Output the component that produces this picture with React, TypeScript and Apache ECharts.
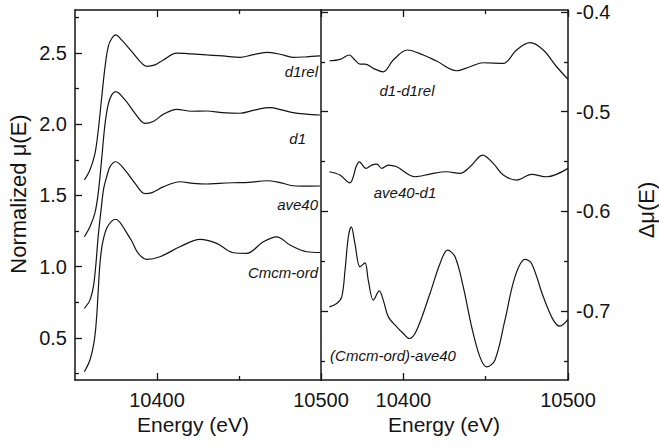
import React, { useEffect, useRef } from "react";
import * as echarts from "echarts";

// Energy grid shared by both panels (eV)
const energyMin = 10350;
const energyMax = 10500;
const energyMajorTicks = [10400, 10500];
const energyMinorTicks = [10450];

// Left panel: normalized absorption, offset stack
const muMin = 0.206;
const muMax = 2.8;
const muMajorTicks = [0.5, 1.0, 1.5, 2.0, 2.5];
const muMinorTicks = [0.25, 0.75, 1.25, 1.75, 2.25, 2.75];

// Right panel: difference spectra
const dMuMin = -0.769;
const dMuMax = -0.398;
const dMuMajorTicks = [-0.7, -0.6, -0.5, -0.4];
const dMuMinorTicks = [-0.75, -0.65, -0.55, -0.45];

const d1rel: [number, number][] = [
  [10355.7, 1.608], [10359.1, 1.678], [10362.2, 1.795], [10364.2, 1.959],
  [10366.3, 2.19], [10368.3, 2.4], [10370.3, 2.545], [10372.4, 2.6],
  [10374.8, 2.625], [10378.4, 2.59], [10384.5, 2.51], [10389.6, 2.44],
  [10393.7, 2.405], [10398.8, 2.415], [10403.9, 2.45], [10412, 2.497],
  [10421, 2.492], [10430.3, 2.485], [10440, 2.478], [10450.6, 2.468],
  [10458, 2.485], [10466.9, 2.503], [10475, 2.49], [10483.1, 2.468],
  [10491, 2.472], [10499.4, 2.478],
];

const d1: [number, number][] = [
  [10355.7, 1.21], [10359.1, 1.28], [10362.2, 1.38], [10364.2, 1.52],
  [10366.3, 1.76], [10368.3, 2.0], [10370.3, 2.14], [10372.4, 2.205],
  [10374.8, 2.228], [10380.5, 2.17], [10386.6, 2.076], [10392.7, 2.005],
  [10398, 2.02], [10404, 2.07], [10412, 2.104], [10421, 2.09],
  [10430.3, 2.092], [10440, 2.08], [10450.6, 2.076], [10460, 2.1],
  [10468.9, 2.115], [10476, 2.1], [10483, 2.08], [10491, 2.07],
  [10499.4, 2.064],
];

const ave40: [number, number][] = [
  [10355.7, 0.708], [10359.1, 0.766], [10361.2, 0.86], [10362.6, 1.0],
  [10364.2, 1.22], [10365.9, 1.4], [10367.5, 1.55], [10369.3, 1.63],
  [10371.3, 1.7], [10374.8, 1.736], [10380.5, 1.678], [10386.6, 1.585],
  [10392.7, 1.513], [10397, 1.52], [10403.8, 1.56], [10414, 1.596],
  [10422, 1.585], [10430.3, 1.58], [10438, 1.585], [10446.5, 1.589],
  [10456, 1.592], [10466.9, 1.603], [10475, 1.59], [10483, 1.568],
  [10491, 1.565], [10499.4, 1.566],
];

const cmcmOrd: [number, number][] = [
  [10355.7, 0.264], [10359.1, 0.346], [10361.8, 0.486], [10363.2, 0.649],
  [10364.2, 0.837], [10365.2, 1.02], [10366.7, 1.16], [10369.3, 1.27],
  [10372.4, 1.32], [10374.8, 1.333], [10377.5, 1.31], [10380.5, 1.257],
  [10384.6, 1.18], [10388.6, 1.094], [10393.7, 1.052], [10401.8, 1.07],
  [10414, 1.14], [10426.2, 1.192], [10436.4, 1.164], [10446.5, 1.098],
  [10454.7, 1.094], [10464.8, 1.175], [10473, 1.21], [10481.1, 1.152],
  [10491.3, 1.105], [10499.4, 1.1],
];

const d1MinusD1rel: [number, number][] = [
  [10355.1, -0.4489], [10361.5, -0.4475], [10367.2, -0.4431], [10370.6, -0.4482],
  [10373.7, -0.4522], [10376.7, -0.4522], [10381.8, -0.4565], [10387.8, -0.46],
  [10393.9, -0.4482], [10402.4, -0.4381], [10412.1, -0.4431], [10420.2, -0.4492],
  [10432.4, -0.4589], [10440.5, -0.4549], [10448.5, -0.4509], [10460.7, -0.4515],
  [10468.8, -0.4381], [10476.9, -0.4308], [10485, -0.4381], [10493.1, -0.4549],
  [10500, -0.4675],
];

const ave40MinusD1: [number, number][] = [
  [10355.1, -0.5602], [10361.5, -0.5635], [10367.6, -0.5713], [10369.6, -0.5652],
  [10371.3, -0.5552], [10373.3, -0.5502], [10377.3, -0.5568], [10380.8, -0.5535],
  [10383.8, -0.5525], [10386.9, -0.5568], [10390.9, -0.5535], [10396, -0.5552],
  [10407.1, -0.5652], [10416.2, -0.5625], [10426.3, -0.5602], [10434.4, -0.5618],
  [10440.5, -0.5552], [10448.2, -0.5435], [10454.6, -0.5518], [10460.7, -0.5635],
  [10468.8, -0.5685], [10477.9, -0.5628], [10487, -0.5652], [10500, -0.5568],
];

const cmcmMinusAve40: [number, number][] = [
  [10355.1, -0.6957], [10359.5, -0.6923], [10362.6, -0.6856], [10364.6, -0.6589],
  [10366.6, -0.6254], [10368.4, -0.6154], [10370.6, -0.6321], [10373.7, -0.6555],
  [10376.7, -0.6515], [10378.7, -0.6689], [10381.8, -0.6889], [10385.4, -0.6796],
  [10387.8, -0.6889], [10390.9, -0.7057], [10396, -0.7157], [10400, -0.7224],
  [10403.6, -0.7274], [10408.1, -0.719], [10416.2, -0.6822], [10422.3, -0.6521],
  [10426.9, -0.6388], [10431.4, -0.6455], [10436.4, -0.6756], [10441.5, -0.7157],
  [10446.5, -0.7458], [10450.6, -0.7559], [10455.6, -0.7492], [10461.7, -0.709],
  [10467.8, -0.6656], [10473.9, -0.6481], [10477.9, -0.6521], [10485, -0.6856],
  [10491.1, -0.709], [10495.1, -0.715], [10500, -0.7083],
];

const FONT = '"Liberation Sans", Arial, Helvetica, sans-serif';
const INK = "#141414";

const lineAxis = { show: true, lineStyle: { color: INK, width: 1.5 } };

function energyAxis(grid: number, position: "bottom" | "top", major: boolean, labels: boolean) {
  return {
    type: "value",
    gridIndex: grid,
    position,
    min: energyMin,
    max: energyMax,
    axisLine: major ? lineAxis : { show: false },
    splitLine: { show: false },
    axisTick: {
      show: true,
      inside: true,
      length: major ? 7 : 4,
      lineStyle: { color: INK, width: 1.3 },
      customValues: major ? energyMajorTicks : energyMinorTicks,
    },
    axisLabel: labels
      ? {
          show: true,
          customValues: energyMajorTicks,
          margin: 10,
          fontSize: 20,
          fontFamily: FONT,
          color: INK,
          formatter: (v: number) => String(v),
        }
      : { show: false },
  };
}

function valueAxis(
  grid: number,
  position: "left" | "right",
  min: number,
  max: number,
  ticks: number[] | null,
  tickLen: number,
  showLine: boolean,
  labels: number[] | null
) {
  return {
    type: "value",
    gridIndex: grid,
    position,
    min,
    max,
    axisLine: showLine ? lineAxis : { show: false },
    splitLine: { show: false },
    axisTick: ticks
      ? {
          show: true,
          inside: true,
          length: tickLen,
          lineStyle: { color: INK, width: 1.3 },
          customValues: ticks,
        }
      : { show: false },
    axisLabel: labels
      ? {
          show: true,
          customValues: labels,
          margin: 8,
          fontSize: 20,
          fontFamily: FONT,
          color: INK,
          formatter: (v: number) => v.toFixed(1),
        }
      : { show: false },
  };
}

function curve(data: [number, number][], xi: number, yi: number) {
  return {
    type: "line",
    xAxisIndex: xi,
    yAxisIndex: yi,
    data,
    symbol: "none",
    smooth: 0.35,
    lineStyle: { color: INK, width: 1.2 },
    silent: true,
  };
}

function tag(text: string, x: number, y: number, align: string) {
  return {
    type: "text",
    x,
    y,
    style: {
      text,
      font: `italic 15px ${FONT}`,
      fill: INK,
      align,
      verticalAlign: "middle",
      textAlign: align,
      textVerticalAlign: "middle",
    },
  };
}

function title(text: string, x: number, y: number, rotation = 0) {
  return {
    type: "text",
    x,
    y,
    rotation,
    style: {
      text,
      font: `21px ${FONT}`,
      fill: INK,
      align: "center",
      verticalAlign: "middle",
      textAlign: "center",
      textVerticalAlign: "middle",
    },
  };
}

export default function App() {
  const ref = useRef<HTMLDivElement>(null);

  useEffect(() => {
    document.body.style.margin = "0";
    if (!ref.current) return;
    const chart = echarts.init(ref.current, null, { renderer: "svg" });

    chart.setOption({
      animation: false,
      backgroundColor: "#ffffff",
      grid: [
        { left: 75, top: 10, width: 246, height: 370, containLabel: false, outerBoundsMode: "none" },
        { left: 321, top: 10, width: 247, height: 370, containLabel: false, outerBoundsMode: "none" },
      ],
      xAxis: [
        energyAxis(0, "bottom", true, true),
        energyAxis(0, "bottom", false, false),
        energyAxis(0, "top", true, false),
        energyAxis(0, "top", false, false),
        energyAxis(1, "bottom", true, true),
        energyAxis(1, "bottom", false, false),
        energyAxis(1, "top", true, false),
        energyAxis(1, "top", false, false),
      ],
      yAxis: [
        valueAxis(0, "left", muMin, muMax, muMajorTicks, 7, true, muMajorTicks),
        valueAxis(0, "left", muMin, muMax, muMinorTicks, 4, false, null),
        valueAxis(0, "right", muMin, muMax, null, 0, true, null),
        valueAxis(1, "right", dMuMin, dMuMax, dMuMajorTicks, 7, true, dMuMajorTicks),
        valueAxis(1, "right", dMuMin, dMuMax, dMuMinorTicks, 4, false, null),
        valueAxis(1, "left", dMuMin, dMuMax, dMuMajorTicks, 7, false, null),
        valueAxis(1, "left", dMuMin, dMuMax, dMuMinorTicks, 4, false, null),
      ],
      series: [
        curve(d1rel, 0, 0),
        curve(d1, 0, 0),
        curve(ave40, 0, 0),
        curve(cmcmOrd, 0, 0),
        curve(d1MinusD1rel, 4, 3),
        curve(ave40MinusD1, 4, 3),
        curve(cmcmMinusAve40, 4, 3),
      ],
      graphic: [
        tag("d1rel", 318, 71, "right"),
        tag("d1", 306, 138, "right"),
        tag("ave40", 318, 204, "right"),
        tag("Cmcm-ord", 318, 272, "right"),
        tag("d1-d1rel", 407, 90, "center"),
        tag("ave40-d1", 405, 192, "center"),
        tag("(Cmcm-ord)-ave40", 393, 355, "center"),
        title("Energy (eV)", 193, 424),
        title("Energy (eV)", 444, 424),
        { ...title("Normalized \u03bc(E)", 18, 194, Math.PI / 2), style: { ...title("", 0, 0).style, text: "Normalized \u03bc(E)", font: `22px ${FONT}` } },
        { ...title("\u0394\u03bc(E)", 646, 210, Math.PI / 2), style: { ...title("", 0, 0).style, text: "\u0394\u03bc(E)", font: `22px ${FONT}` } },
      ],
    });

    return () => chart.dispose();
  }, []);

  return <div ref={ref} style={{ width: 659, height: 447 }} />;
}
